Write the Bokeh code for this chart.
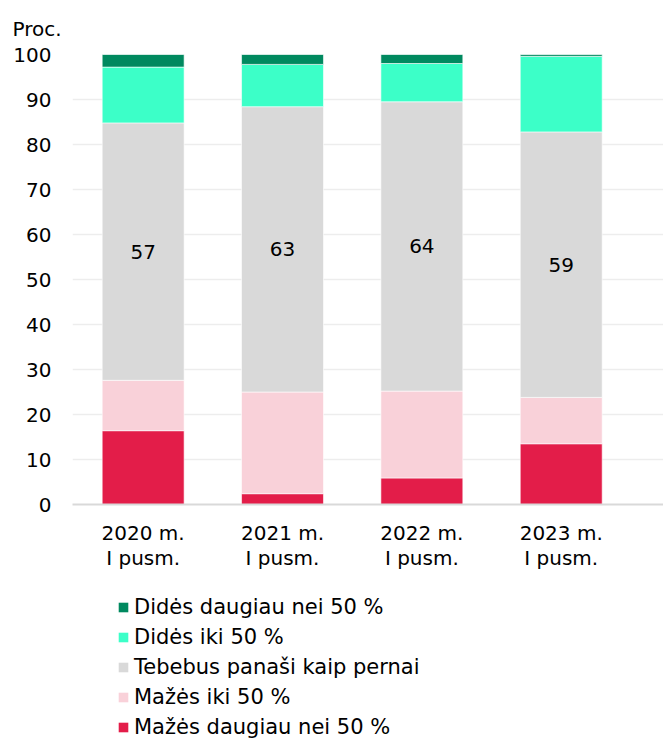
from bokeh.plotting import figure
from bokeh.layouts import column
from bokeh.models import ColumnDataSource, Range1d, FixedTicker, Legend, LegendItem
from bokeh.embed import file_html
from bokeh.resources import INLINE
from bokeh.core.properties import value

# ---- data ----
categories = ["2020 m.\nI pusm.", "2021 m.\nI pusm.", "2022 m.\nI pusm.", "2023 m.\nI pusm."]
series_names = ["Mažės daugiau nei 50 %", "Mažės iki 50 %", "Tebebus panaši kaip pernai",
                "Didės iki 50 %", "Didės daugiau nei 50 %"]
decrease_over_50 = [16.4, 2.4, 5.9, 13.5]
decrease_under_50 = [11.2, 22.6, 19.3, 10.3]
same_as_last_year = [57.2, 63.4, 64.3, 59.0]
increase_under_50 = [12.4, 9.4, 8.5, 16.8]
increase_over_50 = [2.8, 2.2, 2.0, 0.4]
y_ticks = [0, 10, 20, 30, 40, 50, 60, 70, 80, 90, 100]
colors = ["#E31D49", "#F9D1D9", "#D9D9D9", "#3CFFC8", "#00895F"]

FONT = "DejaVu Sans"
keys = ["s0", "s1", "s2", "s3", "s4"]
xs = list(range(len(categories)))
src = ColumnDataSource(dict(x=xs, s0=decrease_over_50, s1=decrease_under_50, s2=same_as_last_year,
                            s3=increase_under_50, s4=increase_over_50))

p = figure(width=663, height=592, output_backend="svg", toolbar_location=None,
           x_range=Range1d(-0.507, 3.734), y_range=Range1d(0, 100),
           min_border_left=72, min_border_right=0, min_border_top=54, min_border_bottom=88)
p.outline_line_color = None
p.background_fill_color = "white"

renderers = p.vbar_stack(keys, x="x", width=0.588, source=src, color=colors,
                         line_color="white", line_width=0.6)

# labels in the middle segment
lab_x = xs
lab_y = [a + b + c / 2 for a, b, c in zip(decrease_over_50, decrease_under_50, same_as_last_year)]
lab_t = [f"{round(c)}" for c in same_as_last_year]
p.text(x=lab_x, y=lab_y, text=lab_t, text_align="center", text_baseline="middle",
       text_font=value(FONT), text_font_size="20px", text_color="#000000")

# axes
p.yaxis.ticker = FixedTicker(ticks=y_ticks)
p.yaxis.axis_line_color = None
p.yaxis.major_tick_line_color = None
p.yaxis.major_tick_out = 0
p.yaxis.minor_tick_line_color = None
p.yaxis.major_label_standoff = 21
p.yaxis.major_label_text_font = FONT
p.yaxis.major_label_text_font_size = "20px"
p.yaxis.major_label_text_color = "#000000"

p.xaxis.ticker = FixedTicker(ticks=xs)
p.xaxis.major_label_overrides = {i: c for i, c in zip(xs, categories)}
p.xaxis.axis_line_color = "#D9D9D9"
p.xaxis.axis_line_width = 2
p.xaxis.major_tick_line_color = None
p.xaxis.minor_tick_line_color = None
p.xaxis.major_label_standoff = 10
p.xaxis.major_label_text_font = FONT
p.xaxis.major_label_text_font_size = "20px"
p.xaxis.major_label_text_line_height = 1.05
p.xaxis.major_label_text_color = "#000000"

p.xgrid.grid_line_color = None
p.ygrid.ticker = FixedTicker(ticks=y_ticks)
p.ygrid.grid_line_color = "#EDEDED"
p.ygrid.grid_line_width = 1.5

# title
p.title.text = "Proc."
p.title.align = "left"
p.title.offset = -60
p.title.text_font = FONT
p.title.text_font_size = "20px"
p.title.text_font_style = "normal"
p.title.text_color = "#000000"
p.title.standoff = 28

# legend in its own strip below the chart (swatches reuse the same data, drawn off-range)
lg = figure(width=663, height=146, output_backend="svg", toolbar_location=None,
            x_range=Range1d(1000, 1001), y_range=Range1d(1000, 1001),
            min_border_left=0, min_border_right=0, min_border_top=0, min_border_bottom=0)
lg.axis.visible = False
lg.grid.visible = False
lg.outline_line_color = None
swatches = lg.vbar_stack(keys, x="x", width=0.588, source=src, color=colors, line_color=None)
items = [LegendItem(label=n, renderers=[r]) for n, r in zip(series_names, swatches)][::-1]
legend = Legend(items=items, location=(45, -1.5), orientation="vertical",
                glyph_width=12, glyph_height=12, label_text_font=FONT,
                label_text_font_size="21px", label_text_color="#000000",
                label_height=25, label_standoff=5, spacing=5, padding=0, margin=0,
                border_line_color=None, background_fill_alpha=0)
lg.add_layout(legend, "center")

layout = column(p, lg, spacing=0)
open("out.html", "w").write(file_html(layout, INLINE))
